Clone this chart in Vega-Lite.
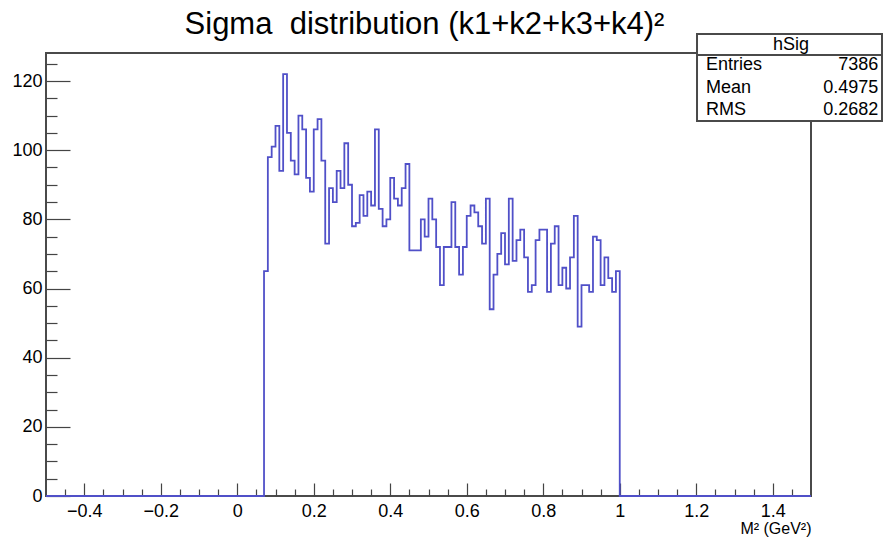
{
  "$schema": "https://vega.github.io/schema/vega-lite/v6.json",
  "width": 765,
  "height": 443,
  "autosize": {"type": "none"},
  "padding": {"left": 46, "top": 53, "right": 72, "bottom": 45},
  "background": "white",
  "config": {
    "view": {"stroke": "#4a4a4a", "strokeWidth": 2},
    "font": "Liberation Sans",
    "axis": {
      "grid": false,
      "domain": false,
      "labelFont": "Liberation Sans",
      "labelColor": "#000000",
      "labelFontSize": 18,
      "tickColor": "#444444",
      "tickWidth": 1.2,
      "titleFont": "Liberation Sans",
      "titleFontWeight": "normal",
      "titleColor": "#000000"
    }
  },
  "title": {
    "text": "Sigma\u00a0 distribution (k1+k2+k3+k4)²",
    "font": "Liberation Sans",
    "fontSize": 31,
    "fontWeight": "normal",
    "color": "#000000",
    "anchor": "middle",
    "baseline": "alphabetic",
    "offset": -32,
    "dx": -4
  },
  "datasets": {
    "hSig": [
      {"x": -0.5, "n": 0},
      {"x": 0.07, "n": 65}, {"x": 0.08, "n": 98}, {"x": 0.09, "n": 101}, {"x": 0.10, "n": 107},
      {"x": 0.11, "n": 94}, {"x": 0.12, "n": 122}, {"x": 0.13, "n": 105}, {"x": 0.14, "n": 97},
      {"x": 0.15, "n": 93}, {"x": 0.16, "n": 110}, {"x": 0.17, "n": 106}, {"x": 0.18, "n": 92},
      {"x": 0.19, "n": 88}, {"x": 0.20, "n": 106}, {"x": 0.21, "n": 109}, {"x": 0.22, "n": 97},
      {"x": 0.23, "n": 73}, {"x": 0.24, "n": 89}, {"x": 0.25, "n": 85}, {"x": 0.26, "n": 94},
      {"x": 0.27, "n": 89}, {"x": 0.28, "n": 102}, {"x": 0.29, "n": 90}, {"x": 0.30, "n": 78},
      {"x": 0.31, "n": 79}, {"x": 0.32, "n": 87}, {"x": 0.33, "n": 81}, {"x": 0.34, "n": 88},
      {"x": 0.35, "n": 84}, {"x": 0.36, "n": 106}, {"x": 0.37, "n": 83}, {"x": 0.38, "n": 78},
      {"x": 0.39, "n": 80}, {"x": 0.40, "n": 92}, {"x": 0.41, "n": 86}, {"x": 0.42, "n": 84},
      {"x": 0.43, "n": 89}, {"x": 0.44, "n": 96}, {"x": 0.45, "n": 71}, {"x": 0.46, "n": 71},
      {"x": 0.47, "n": 71}, {"x": 0.48, "n": 80}, {"x": 0.49, "n": 75}, {"x": 0.50, "n": 86},
      {"x": 0.51, "n": 80}, {"x": 0.52, "n": 72}, {"x": 0.53, "n": 61}, {"x": 0.54, "n": 72},
      {"x": 0.55, "n": 72}, {"x": 0.56, "n": 85}, {"x": 0.57, "n": 72}, {"x": 0.58, "n": 64},
      {"x": 0.59, "n": 72}, {"x": 0.60, "n": 81}, {"x": 0.61, "n": 84}, {"x": 0.62, "n": 82},
      {"x": 0.63, "n": 78}, {"x": 0.64, "n": 73}, {"x": 0.65, "n": 86}, {"x": 0.66, "n": 54},
      {"x": 0.67, "n": 64}, {"x": 0.68, "n": 70}, {"x": 0.69, "n": 76}, {"x": 0.70, "n": 67},
      {"x": 0.71, "n": 86}, {"x": 0.72, "n": 68}, {"x": 0.73, "n": 74}, {"x": 0.74, "n": 77},
      {"x": 0.75, "n": 69}, {"x": 0.76, "n": 59}, {"x": 0.77, "n": 61}, {"x": 0.78, "n": 74},
      {"x": 0.79, "n": 77}, {"x": 0.80, "n": 77}, {"x": 0.81, "n": 59}, {"x": 0.82, "n": 73},
      {"x": 0.83, "n": 78}, {"x": 0.84, "n": 61}, {"x": 0.85, "n": 66}, {"x": 0.86, "n": 60},
      {"x": 0.87, "n": 69}, {"x": 0.88, "n": 81}, {"x": 0.89, "n": 49}, {"x": 0.90, "n": 61},
      {"x": 0.91, "n": 61}, {"x": 0.92, "n": 59}, {"x": 0.93, "n": 75}, {"x": 0.94, "n": 74},
      {"x": 0.95, "n": 61}, {"x": 0.96, "n": 69}, {"x": 0.97, "n": 63}, {"x": 0.98, "n": 59},
      {"x": 0.99, "n": 65},
      {"x": 1.0, "n": 0},
      {"x": 1.5, "n": 0}
    ],
    "stats": [
      {"stat": "Entries", "value": "7386"},
      {"stat": "Mean", "value": "0.4975"},
      {"stat": "RMS", "value": "0.2682"}
    ],
    "header": [{"name": "hSig"}]
  },
  "layer": [
    {
      "data": {"name": "hSig"},
      "mark": {"type": "line", "interpolate": "step-after", "color": "#5050c8", "strokeWidth": 1.8},
      "encoding": {
        "x": {
          "field": "x",
          "type": "quantitative",
          "scale": {"domain": [-0.5, 1.5], "nice": false, "zero": false},
          "axis": {
            "orient": "bottom",
            "values": [-0.4, -0.2, 0, 0.2, 0.4, 0.6, 0.8, 1, 1.2, 1.4],
            "format": "~g",
            "tickSize": -13,
            "labelPadding": 19,
            "title": "M² (GeV²)",
            "titleFontSize": 16,
            "titleAnchor": "end",
            "titleAlign": "right",
            "titlePadding": 0
          }
        },
        "y": {
          "field": "n",
          "type": "quantitative",
          "scale": {"domain": [0, 128.1], "nice": false, "zero": true},
          "axis": {
            "orient": "left",
            "values": [0, 20, 40, 60, 80, 100, 120],
            "format": "d",
            "tickSize": -24,
            "labelPadding": 28,
            "title": null
          }
        }
      }
    },
    {
      "data": {"name": "hSig"},
      "mark": {"type": "line", "interpolate": "step-after", "strokeOpacity": 0},
      "encoding": {
        "x": {
          "field": "x",
          "type": "quantitative",
          "scale": {"domain": [-0.5, 1.5], "nice": false, "zero": false},
          "axis": {
            "orient": "bottom",
            "values": [-0.45, -0.35, -0.3, -0.25, -0.15, -0.1, -0.05, 0.05, 0.1, 0.15, 0.25, 0.3, 0.35, 0.45, 0.5, 0.55, 0.65, 0.7, 0.75, 0.85, 0.9, 0.95, 1.05, 1.1, 1.15, 1.25, 1.3, 1.35, 1.45],
            "labels": false,
            "tickSize": -7,
            "title": null
          }
        },
        "y": {
          "field": "n",
          "type": "quantitative",
          "scale": {"domain": [0, 128.1], "nice": false, "zero": true},
          "axis": {
            "orient": "left",
            "values": [5, 10, 15, 25, 30, 35, 45, 50, 55, 65, 70, 75, 85, 90, 95, 105, 110, 115, 125],
            "labels": false,
            "tickSize": -11,
            "title": null
          }
        }
      }
    },
    {
      "data": {"name": "header"},
      "mark": {"type": "rect", "fill": "white", "stroke": "#4a4a4a", "strokeWidth": 2},
      "encoding": {
        "x": {"datum": 1.202, "type": "quantitative", "axis": null},
        "x2": {"datum": 1.6856},
        "y": {"datum": 133.59, "type": "quantitative", "axis": null},
        "y2": {"datum": 108.44}
      }
    },
    {
      "data": {"name": "header"},
      "mark": {"type": "rule", "stroke": "#4a4a4a", "strokeWidth": 2},
      "encoding": {
        "x": {"datum": 1.202, "type": "quantitative", "axis": null},
        "x2": {"datum": 1.6856},
        "y": {"datum": 127.52, "type": "quantitative", "axis": null}
      }
    },
    {
      "data": {"name": "header"},
      "mark": {"type": "text", "font": "Liberation Sans", "fontSize": 18, "align": "center", "baseline": "middle", "color": "#000000"},
      "encoding": {
        "x": {"datum": 1.4477, "type": "quantitative", "axis": null},
        "y": {"datum": 130.41, "type": "quantitative", "axis": null},
        "text": {"field": "name"}
      }
    },
    {
      "data": {"name": "stats"},
      "transform": [{"filter": "datum.stat === 'Entries'"}],
      "encoding": {"y": {"datum": 124.63, "type": "quantitative", "axis": null}},
      "layer": [
        {"mark": {"type": "text", "font": "Liberation Sans", "fontSize": 18, "align": "left", "baseline": "middle", "color": "#000000"},
         "encoding": {"x": {"datum": 1.2255, "type": "quantitative", "axis": null}, "text": {"field": "stat"}}},
        {"mark": {"type": "text", "font": "Liberation Sans", "fontSize": 18, "align": "right", "baseline": "middle", "color": "#000000"},
         "encoding": {"x": {"datum": 1.676, "type": "quantitative", "axis": null}, "text": {"field": "value"}}}
      ]
    },
    {
      "data": {"name": "stats"},
      "transform": [{"filter": "datum.stat === 'Mean'"}],
      "encoding": {"y": {"datum": 117.89, "type": "quantitative", "axis": null}},
      "layer": [
        {"mark": {"type": "text", "font": "Liberation Sans", "fontSize": 18, "align": "left", "baseline": "middle", "color": "#000000"},
         "encoding": {"x": {"datum": 1.2255, "type": "quantitative", "axis": null}, "text": {"field": "stat"}}},
        {"mark": {"type": "text", "font": "Liberation Sans", "fontSize": 18, "align": "right", "baseline": "middle", "color": "#000000"},
         "encoding": {"x": {"datum": 1.676, "type": "quantitative", "axis": null}, "text": {"field": "value"}}}
      ]
    },
    {
      "data": {"name": "stats"},
      "transform": [{"filter": "datum.stat === 'RMS'"}],
      "encoding": {"y": {"datum": 111.62, "type": "quantitative", "axis": null}},
      "layer": [
        {"mark": {"type": "text", "font": "Liberation Sans", "fontSize": 18, "align": "left", "baseline": "middle", "color": "#000000"},
         "encoding": {"x": {"datum": 1.2255, "type": "quantitative", "axis": null}, "text": {"field": "stat"}}},
        {"mark": {"type": "text", "font": "Liberation Sans", "fontSize": 18, "align": "right", "baseline": "middle", "color": "#000000"},
         "encoding": {"x": {"datum": 1.676, "type": "quantitative", "axis": null}, "text": {"field": "value"}}}
      ]
    }
  ],
  "resolve": {"axis": {"x": "independent", "y": "independent"}}
}
